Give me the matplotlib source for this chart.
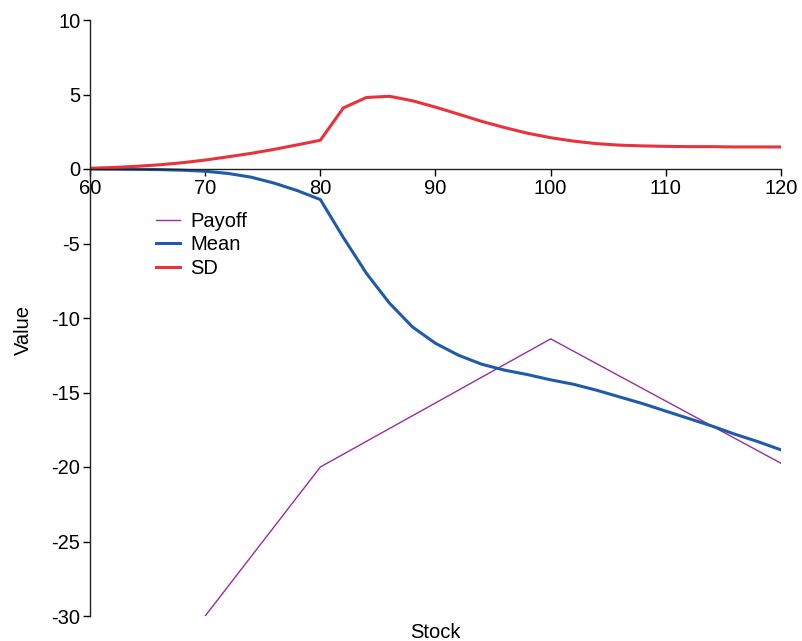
import matplotlib
matplotlib.use("Agg")
import matplotlib.pyplot as plt

plt.rcParams['font.family'] = ['Liberation Sans', 'DejaVu Sans']
plt.rcParams['axes.unicode_minus'] = False

stock_payoff = [60, 70, 80, 100, 120]
payoff = [-40, -30, -20, -11.4, -19.75]

stock = list(range(60, 121, 2))
mean = [0.0, -0.01, -0.02, -0.04, -0.08, -0.15, -0.3, -0.55, -0.95, -1.45, -2.05,
        -4.6, -7.0, -9.0, -10.6, -11.7, -12.5, -13.1, -13.5, -13.8, -14.15,
        -14.45, -14.85, -15.3, -15.75, -16.25, -16.75, -17.25, -17.8, -18.3, -18.85]
sd = [0.05, 0.1, 0.18, 0.28, 0.42, 0.6, 0.82, 1.05, 1.32, 1.62, 1.93,
      4.1, 4.8, 4.88, 4.58, 4.15, 3.68, 3.2, 2.78, 2.4, 2.1,
      1.87, 1.7, 1.6, 1.55, 1.52, 1.5, 1.5, 1.48, 1.48, 1.48]

fig = plt.figure(figsize=(8.03, 6.41), dpi=100)
ax = fig.add_axes([90/803, 1-616/641, (781-90)/803, (616-20)/641])

ax.plot(stock_payoff, payoff, color='#9B2C9E', lw=1.0, label='Payoff')
ax.plot(stock, mean, color='#1F5BAA', lw=2.2, label='Mean')
ax.plot(stock, sd, color='#E8323C', lw=2.2, label='SD')

ax.set_xlim(60, 120)
ax.set_ylim(-30, 10)
ax.set_xticks(range(60, 121, 10))
ax.set_yticks(range(-30, 11, 5))
ax.spines['top'].set_visible(False)
ax.spines['right'].set_visible(False)
ax.spines['bottom'].set_position(('data', 0))
for s in ('left', 'bottom'):
    ax.spines[s].set_linewidth(1.0)
    ax.spines[s].set_color('#222222')
ax.tick_params(axis='both', labelsize=14.5, length=5, width=1, direction='out', pad=2)
ax.set_xlabel('Stock', fontsize=14.5)
ax.set_ylabel('Value', fontsize=14.5)
ax.xaxis.set_label_coords(0.5, -0.012)
ax.yaxis.set_label_coords(-0.083, 0.48)

fig.legend(loc='upper left', bbox_to_anchor=(156/803, 1-212/641), frameon=False,
           fontsize=14.5, handlelength=1.2, handletextpad=0.5, labelspacing=0.22,
           borderaxespad=0, borderpad=0)

fig.savefig('out.png', dpi=100)
